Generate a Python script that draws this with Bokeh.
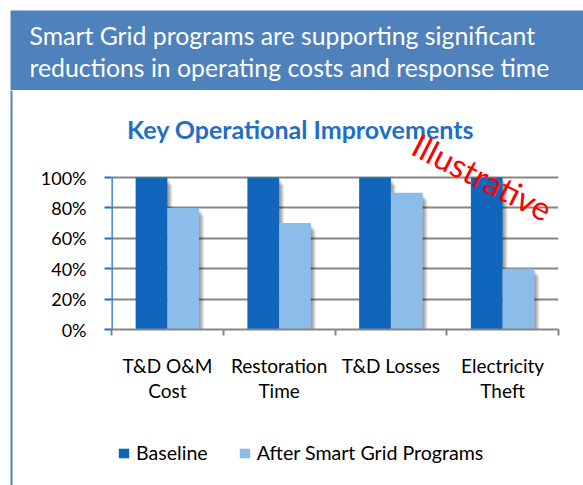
from bokeh.plotting import figure
from bokeh.layouts import column, row
from bokeh.models import (Range1d, FixedTicker, BoxAnnotation, Label, Legend, LegendItem,
                          ColumnDataSource)
from bokeh.transform import dodge
from bokeh.embed import file_html
from bokeh.resources import INLINE
import numpy as np

categories = ["T&D O&M\nCost", "Restoration\nTime", "T&D Losses", "Electricity\nTheft"]
baseline = [100, 100, 100, 100]
after = [80, 70, 90, 40]
y_ticks = [0, 20, 40, 60, 80, 100]
series_names = ["Baseline", "After Smart Grid Programs"]
header_lines = ["Smart Grid programs are supporting significant",
                "reductions in operating costs and response time"]
chart_title = "Key Operational Improvements"
stamp = "Illustrative"

FONT = "Lato"
DARK = "#1066BA"
LIGHT = "#8CBCEA"
HEADER = "#4F81BD"
TITLE_BLUE = "#1F6FC5"

PAGE_W, PAGE_H = 583, 485
HEAD_H = 90
STRIP_W = 13
CHART_H = 320          # page y 90 .. 410
LEG_H = PAGE_H - HEAD_H - CHART_H
BODY_H = PAGE_H - HEAD_H
CHART_W = PAGE_W - STRIP_W


def blank_fig(w, h, xr=None, yr=None):
    f = figure(width=w, height=h, output_backend="svg", toolbar_location=None,
               x_axis_type=None, y_axis_type=None, min_border=0,
               x_range=xr or Range1d(0, w), y_range=yr or Range1d(0, h))
    f.outline_line_color = None
    f.grid.visible = False
    f.background_fill_color = "white"
    f.border_fill_color = "white"
    return f


def cbox(left, right, top, bottom, color):
    return BoxAnnotation(left=left, right=right, top=top, bottom=bottom,
                         left_units="canvas", right_units="canvas",
                         top_units="canvas", bottom_units="canvas",
                         fill_color=color, fill_alpha=1, line_color=None, level="overlay")


# ---------- header ----------
head = blank_fig(PAGE_W, HEAD_H)
head.add_layout(cbox(10, PAGE_W, 10, HEAD_H, HEADER))
for i, t in enumerate(header_lines):
    head.add_layout(Label(x=29, y=35 + 32 * i, x_units="canvas", y_units="canvas", text=t,
                          text_font=FONT, text_font_size="24.8px", text_color="white",
                          text_baseline="alphabetic", level="overlay"))

# ---------- left border strip ----------
strip = blank_fig(STRIP_W, BODY_H)
strip.add_layout(cbox(10, 12, 0, BODY_H, HEADER))

# ---------- chart ----------
FRAME_LEFT = 98
FRAME_RIGHT = 25
FRAME_TOP = 15
FRAME_BOTTOM = CHART_H - FRAME_TOP - 224   # frame bottom at page y ~329
frame_h = CHART_H - FRAME_TOP - FRAME_BOTTOM
px_per_unit = 1.52
y_top = frame_h / px_per_unit

xc = np.arange(len(categories)) + 0.5
src = ColumnDataSource(dict(x=xc, base=baseline, after=after))

p = figure(width=CHART_W, height=CHART_H, output_backend="svg", toolbar_location=None,
           x_range=Range1d(0, len(categories)), y_range=Range1d(0, y_top),
           min_border_left=FRAME_LEFT, min_border_right=FRAME_RIGHT,
           min_border_top=FRAME_TOP, min_border_bottom=FRAME_BOTTOM)
p.outline_line_color = None
p.background_fill_color = "white"
p.border_fill_color = "white"

bw = 0.284
off = 0.142
for k in range(5):
    dx = 0.012 + 0.008 * k
    dy = 1.5 + 0.9 * k
    for col, o in (("base", -off), ("after", off)):
        p.vbar(x=dodge("x", o + dx, range=p.x_range), top=dodge(col, -dy), bottom=-10,
               width=bw, source=src, fill_color="#000000", fill_alpha=0.085, line_color=None)

r1 = p.vbar(x=dodge("x", -off, range=p.x_range), top="base", width=bw, source=src,
            fill_color=DARK, line_color=None)
r2 = p.vbar(x=dodge("x", off, range=p.x_range), top="after", width=bw, source=src,
            fill_color=LIGHT, line_color=None)

p.yaxis.ticker = FixedTicker(ticks=y_ticks)
p.yaxis.major_label_overrides = {t: f"{t}%" for t in y_ticks}
p.yaxis.axis_line_color = None
p.yaxis.major_tick_line_color = TITLE_BLUE
p.yaxis.major_tick_line_width = 2
p.yaxis.major_tick_in = 0
p.yaxis.major_tick_out = 7
p.yaxis.minor_tick_line_color = None
p.yaxis.major_label_standoff = 18
p.yaxis.major_label_text_font = FONT
p.yaxis.major_label_text_font_size = "18px"
p.yaxis.major_label_text_color = "#000000"
p.segment(x0=[0], y0=[y_ticks[0]], x1=[0], y1=[y_ticks[-1]], line_color=TITLE_BLUE,
          line_width=2.5)

p.xaxis.ticker = FixedTicker(ticks=list(xc), minor_ticks=list(range(len(categories) + 1)))
p.xaxis.major_label_overrides = {float(x): c for x, c in zip(xc, categories)}
p.xaxis.axis_line_color = "#868686"
p.xaxis.axis_line_width = 2
p.xaxis.major_tick_line_color = None
p.xaxis.major_tick_in = 0
p.xaxis.major_tick_out = 0
p.xaxis.minor_tick_line_color = "#868686"
p.xaxis.minor_tick_line_width = 2
p.xaxis.minor_tick_in = 0
p.xaxis.minor_tick_out = 6
p.xaxis.major_label_standoff = 18
p.xaxis.major_label_text_font = FONT
p.xaxis.major_label_text_font_size = "19px"
p.xaxis.major_label_text_color = "#000000"
p.xaxis.major_label_text_line_height = 1.1

p.xgrid.visible = False
p.ygrid.ticker = FixedTicker(ticks=y_ticks[1:])
p.ygrid.grid_line_color = "#868686"
p.ygrid.grid_line_width = 2

p.add_layout(Label(x=287, y=38, x_units="canvas", y_units="canvas", text=chart_title,
                   text_font=FONT, text_font_size="25px", text_font_style="bold",
                   text_color=TITLE_BLUE, text_align="center", text_baseline="alphabetic",
                   level="overlay"))

p.add_layout(Label(x=469, y=86, x_units="canvas", y_units="canvas", text=stamp,
                   text_font=FONT, text_font_size="33px", text_color="#FF0000",
                   text_align="center", text_baseline="middle", angle=-0.47, level="overlay"))

# ---------- legend strip ----------
leg = blank_fig(CHART_W, LEG_H, xr=Range1d(0, len(categories)), yr=Range1d(1000, 1100))
l1 = leg.vbar(x="x", top="base", width=bw, source=src, fill_color=DARK, line_color=None)
l2 = leg.vbar(x="x", top="after", width=bw, source=src, fill_color=LIGHT, line_color=None)
legend = Legend(items=[LegendItem(label=series_names[0], renderers=[l1]),
                       LegendItem(label=series_names[1], renderers=[l2])],
                orientation="horizontal", location=(6, 21), glyph_width=13, glyph_height=12,
                label_standoff=6, spacing=30, padding=0, margin=0,
                border_line_color=None, background_fill_alpha=0,
                label_text_font=FONT, label_text_font_size="19.6px", label_text_color="#000000")
leg.add_layout(legend, "center")

layout = column(head, row(strip, column(p, leg, spacing=0), spacing=0), spacing=0)
open("out.html", "w").write(file_html(layout, INLINE))
